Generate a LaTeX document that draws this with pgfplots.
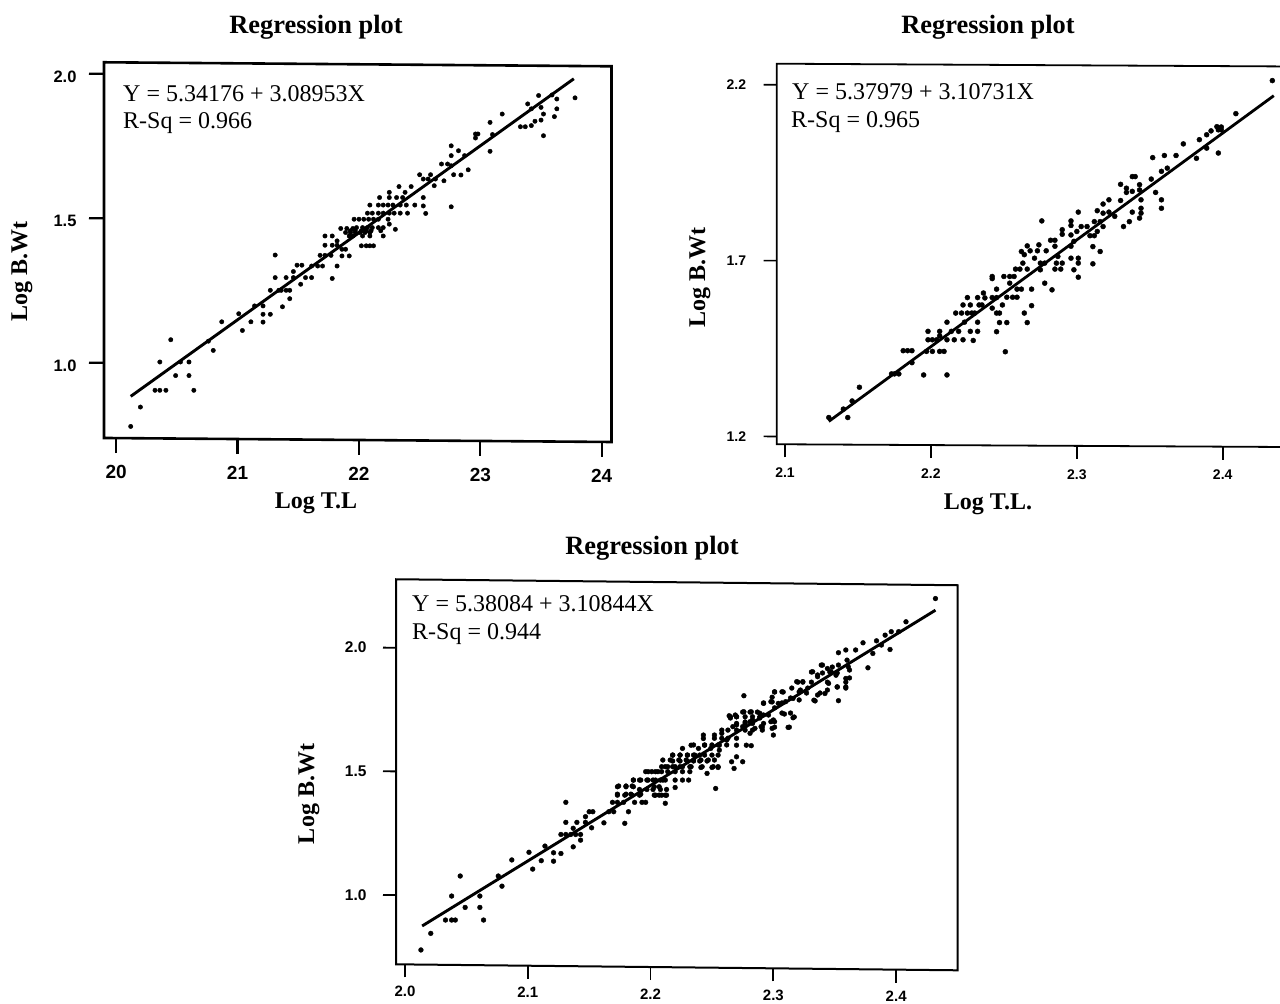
\documentclass[border=0pt]{standalone}
\usepackage{pgfplots}
\pgfplotsset{compat=1.18}
\usepackage{fontspec}
\setmainfont{Liberation Serif}
\newfontfamily\tickfont{Liberation Sans}
\newcommand{\ttl}[1]{{\fontsize{26.4}{30}\selectfont\bfseries #1}}
\newcommand{\lab}[1]{{\fontsize{24}{28}\selectfont\bfseries #1}}
\newcommand{\eqn}[1]{{\fontsize{24}{28}\selectfont #1}}
\pgfplotsset{reg/.style={
  scale only axis, clip=false, axis line style={black}, tick align=outside,
  tick style={black}, xtick pos=bottom, ytick pos=left,
  every axis plot/.append style={black}
}}
\begin{document}
\begin{tikzpicture}
\path[use as bounding box, clip] (0,0) rectangle (1280pt,1004pt);
\fill[white] (0,0) rectangle (1280pt,1004pt);

% ---------- panel 1
\begin{axis}[reg, anchor=south west, at={(104pt,562pt)},
  x={(121.4pt,-0.96pt)}, y={(0pt,289pt)},
  xmin=19.90, xmax=24.08, ymin=0.74, ymax=2.04,
  axis line style={line width=2.6pt}, tick style={line width=2.2pt},
  major tick length=15pt,
  xtick={20,21,22,23,24}, xticklabels={20,21,22,23,24},
  ytick={1,1.5,2}, yticklabels={1.0,1.5,2.0},
  xticklabel style={font=\tickfont\bfseries\fontsize{19}{22}\selectfont, yshift=-9pt},
  yticklabel style={font=\tickfont\bfseries\fontsize{16.5}{20}\selectfont, xshift=-9pt, yshift=-3pt},
  y filter/.expression={y+0.0033*(x-19.9)},
]
\addplot[only marks, mark=*, mark size=2.2pt] coordinates {
(20.12,.78)(20.20,.847)(20.32,.905)(20.36,.905)(20.41,.905)(20.36,1.003)(20.45,1.08)(20.49,.956)(20.53,1.003)(20.60,1.003)(20.60,.956)(20.64,.905)
(20.76,1.075)(20.80,1.043)(20.87,1.142)(21.01,1.17)(21.04,1.112)(21.11,1.142)(21.14,1.197)(21.21,1.197)(21.21,1.168)(21.27,1.168)(21.21,1.141)
(21.27,1.251)(21.31,1.373)(21.31,1.295)(21.34,1.251)(21.36,1.251)(21.40,1.251)(21.43,1.251)(21.37,1.194)(21.40,1.295)(21.43,1.222)(21.46,1.316)(21.46,1.295)
(21.49,1.338)(21.53,1.338)(21.52,1.272)(21.56,1.295)(21.61,1.295)(21.61,1.335)(21.66,1.335)(21.70,1.335)(21.68,1.372)(21.72,1.372)(21.77,1.372)
(21.72,1.439)(21.78,1.439)(21.72,1.407)(21.78,1.407)(21.82,1.407)(21.78,1.292)(21.82,1.335)(21.85,1.465)(21.90,1.465)(21.95,1.465)(21.82,1.422)
(21.86,1.393)(21.89,1.393)(21.86,1.37)(21.92,1.37)(21.92,1.439)(21.95,1.439)(21.96,1.497)(22.0,1.497)(22.04,1.497)
(21.93,1.457)(21.97,1.457)(22.02,1.457)(22.06,1.457)(22.10,1.457)(22.18,1.457)(22.02,1.405)(22.06,1.405)(22.09,1.405)(22.12,1.405)
(22.03,1.439)(22.09,1.439)(22.20,1.439)(22.24,1.497)(22.25,1.48)(22.30,1.462)
(22.09,1.546)(22.16,1.546)(22.20,1.546)(22.24,1.546)(22.28,1.546)(22.34,1.546)(22.39,1.546)(22.46,1.546)
(22.07,1.518)(22.11,1.518)(22.16,1.518)(22.20,1.518)(22.25,1.518)(22.29,1.518)(22.34,1.518)(22.40,1.518)
(22.17,1.572)(22.25,1.59)(22.25,1.572)(22.31,1.572)(22.36,1.572)(22.33,1.61)(22.38,1.59)(22.43,1.61)(22.53,1.572)(22.53,1.543)(22.55,1.517)
(22.50,1.651)(22.53,1.636)(22.59,1.651)(22.63,1.636)(22.62,1.613)(22.57,1.636)(22.70,1.63)(22.76,1.54)
(22.68,1.688)(22.73,1.688)(22.76,1.751)(22.76,1.717)(22.76,1.682)(22.78,1.651)(22.84,1.65)(22.90,1.668)(22.82,1.734)(22.87,1.717)
(22.96,1.778)(22.98,1.792)(22.96,1.792)(23.08,1.832)(23.08,1.732)(23.10,1.79)(23.18,1.861)
(23.33,1.817)(23.37,1.817)(23.42,1.821)(23.45,1.836)(23.5,1.84)(23.52,1.861)(23.52,1.786)(23.39,1.896)(23.42,1.879)(23.48,1.925)(23.50,1.884)
(23.59,1.927)(23.63,1.913)(23.63,1.879)(23.61,1.852)(23.78,1.917)
(21.98,1.468)(22.03,1.468)(22.07,1.468)(22.11,1.468)(22.16,1.468)(22.20,1.468)
(21.89,1.451)(21.93,1.451)(21.97,1.451)(22.01,1.451)(22.05,1.451)(22.09,1.451)
(22.08,1.497)(22.12,1.497)(22.16,1.497)
};
\addplot[line width=2.9pt] coordinates {(20.12,.884)(23.77,1.983)};
\end{axis}

% ---------- panel 2
\begin{axis}[reg, anchor=south west, at={(776.7pt,557pt)},
  x={(1459pt,-7.9pt)}, y={(0pt,351.7pt)},
  xmin=2.0943, xmax=2.4427, ymin=1.178, ymax=2.26,
  axis line style={line width=1.8pt}, tick style={line width=1.6pt},
  major tick length=13pt,
  xtick={2.1,2.2,2.3,2.4}, xticklabels={2.1,2.2,2.3,2.4},
  ytick={1.2,1.7,2.2}, yticklabels={1.2,1.7,2.2},
  xticklabel style={font=\tickfont\bfseries\fontsize{14}{16}\selectfont, yshift=-7pt},
  yticklabel style={font=\tickfont\bfseries\fontsize{14}{16}\selectfont, xshift=-14pt},
  y filter/.expression={y+0.0224*(x-2.0943)},
]
\addplot[only marks, mark=*, mark size=2.5pt] coordinates {
(2.130,1.254)(2.140,1.278)(2.143,1.254)(2.146,1.301)(2.151,1.340)(2.173,1.378)(2.175,1.378)(2.178,1.378)(2.181,1.444)(2.184,1.444)(2.187,1.444)(2.187,1.41)(2.195,1.375)
(2.198,1.499)(2.198,1.475)(2.201,1.475)(2.204,1.475)(2.197,1.442)(2.201,1.442)(2.206,1.499)(2.206,1.486)(2.206,1.442)(2.209,1.442)(2.211,1.375)(2.211,1.475)(2.211,1.525)
(2.216,1.475)(2.222,1.475)(2.214,1.499)(2.219,1.499)(2.217,1.551)(2.222,1.574)(2.227,1.574)(2.233,1.574)(2.221,1.551)(2.225,1.551)(2.228,1.551)(2.230,1.551)(2.225,1.595)
(2.223,1.525)(2.232,1.525)(2.227,1.499)(2.232,1.499)(2.229,1.473)(2.232,1.595)(2.236,1.608)(2.237,1.594)(2.235,1.574)(2.242,1.595)(2.245,1.595)(2.242,1.655)(2.242,1.649)
(2.245,1.619)(2.242,1.565)(2.245,1.551)(2.247,1.551)(2.245,1.498)(2.247,1.524)(2.252,1.524)(2.251,1.441)(2.249,1.574)(2.25,1.655)(2.254,1.655)(2.257,1.655)
(2.252,1.596)(2.256,1.596)(2.259,1.596)(2.254,1.636)(2.259,1.619)(2.262,1.619)(2.258,1.676)(2.261,1.676)(2.266,1.676)(2.264,1.551)(2.266,1.524)(2.269,1.572)(2.269,1.619)
(2.263,1.693)(2.262,1.726)(2.266,1.742)(2.268,1.728)(2.264,1.717)(2.274,1.745)(2.273,1.728)(2.271,1.707)(2.276,1.813)(2.275,1.693)(2.278,1.693)(2.275,1.674)(2.278,1.636)(2.283,1.617)
(2.279,1.728)(2.282,1.758)(2.285,1.758)(2.285,1.741)(2.287,1.712)(2.285,1.676)(2.289,1.676)(2.286,1.693)(2.290,1.693)(2.290,1.788)(2.290,1.775)(2.296,1.813)(2.296,1.80)(2.296,1.741)
(2.301,1.838)(2.296,1.773)(2.300,1.783)(2.298,1.755)(2.296,1.707)(2.301,1.707)(2.301,1.693)(2.298,1.674)(2.301,1.653)(2.303,1.797)(2.307,1.797)(2.309,1.771)(2.312,1.771)
(2.312,1.811)(2.316,1.811)(2.314,1.842)(2.311,1.740)(2.316,1.726)(2.311,1.691)(2.314,1.783)(2.318,1.797)(2.318,1.861)(2.322,1.873)(2.322,1.838)(2.318,1.835)(2.326,1.826)
(2.330,1.871)(2.330,1.917)(2.332,1.797)(2.334,1.906)(2.334,1.894)(2.336,1.811)(2.338,1.838)(2.338,1.939)(2.340,1.939)(2.338,1.897)(2.343,1.916)(2.343,1.901)(2.343,1.821)
(2.344,1.873)(2.344,1.849)(2.344,1.835)(2.351,1.932)(2.352,1.993)(2.354,1.894)(2.358,1.873)(2.358,1.849)(2.358,1.954)(2.362,1.963)(2.360,1.999)(2.368,1.999)(2.373,2.032)
(2.382,1.991)(2.384,2.044)(2.389,2.020)(2.389,2.058)(2.392,2.069)(2.397,2.006)(2.396,2.081)(2.399,2.080)(2.397,2.072)(2.399,2.072)(2.409,2.118)(2.434,2.212)
};
\addplot[line width=2.8pt] coordinates {(2.130,1.243)(2.435,2.169)};
\end{axis}

% ---------- panel 3
\begin{axis}[reg, anchor=south west, at={(396pt,33.7pt)},
  x={(1228pt,-13.1pt)}, y={(0pt,247.3pt)},
  xmin=1.9927, xmax=2.45, ymin=0.72, ymax=2.277,
  axis line style={line width=2pt}, tick style={line width=1.8pt},
  major tick length=13pt,
  xtick={2.0,2.1,2.2,2.3,2.4}, xticklabels={2.0,2.1,2.2,2.3,2.4},
  ytick={1,1.5,2}, yticklabels={1.0,1.5,2.0},
  xticklabel style={font=\tickfont\bfseries\fontsize{15}{18}\selectfont, yshift=-5.2pt},
  yticklabel style={font=\tickfont\bfseries\fontsize{15.5}{18}\selectfont, xshift=-13pt},
  y filter/.expression={y+0.053*(x-1.9927)},
]
\addplot[only marks, mark=*, mark size=2.4pt] coordinates {
(2.013,.778)(2.021,.845)(2.033,.899)(2.038,.899)(2.041,.899)(2.038,.996)(2.045,1.077)(2.049,.95)(2.061,.996)(2.061,.95)(2.064,.899)(2.076,1.077)(2.079,1.036)(2.087,1.142)
(2.101,1.173)(2.104,1.105)(2.111,1.139)(2.114,1.198)(2.121,1.171)(2.121,1.137)(2.127,1.168)(2.131,1.375)(2.131,1.294)(2.127,1.245)(2.131,1.245)(2.135,1.245)(2.139,1.245)(2.143,1.245)
(2.137,1.195)(2.143,1.222)(2.140,1.294)(2.137,1.27)(2.147,1.317)(2.147,1.294)(2.15,1.337)(2.153,1.337)(2.152,1.272)(2.162,1.292)(2.166,1.337)(2.170,1.337)
(2.169,1.375)(2.173,1.375)(2.178,1.375)(2.182,1.337)(2.179,1.29)(2.173,1.438)(2.18,1.438)(2.186,1.438)(2.173,1.408)(2.18,1.408)(2.184,1.408)(2.192,1.408)(2.186,1.465)
(2.187,1.375)(2.193,1.375)(2.196,1.375)(2.192,1.465)(2.198,1.465)(2.204,1.465)(2.21,1.465)(2.196,1.499)(2.201,1.499)(2.206,1.499)(2.203,1.438)(2.207,1.438)
(2.203,1.404)(2.207,1.404)(2.212,1.404)(2.212,1.371)(2.22,1.435)(2.231,1.465)(2.212,1.519)(2.218,1.519)(2.224,1.519)(2.233,1.519)
(2.21,1.546)(2.216,1.546)(2.223,1.546)(2.229,1.546)(2.235,1.546)(2.241,1.546)(2.247,1.546)(2.252,1.546)(2.218,1.566)(2.224,1.566)(2.23,1.566)(2.236,1.566)
(2.226,1.593)(2.233,1.606)(2.239,1.593)(2.244,1.606)(2.249,1.593)(2.241,1.516)(2.25,1.516)(2.255,1.516)(2.246,1.492)(2.253,1.431)(2.243,1.647)(2.243,1.633)
(2.252,1.647)(2.258,1.654)(2.256,1.606)(2.262,1.627)(2.256,1.586)(2.266,1.539)(2.275,1.539)(2.27,1.559)(2.268,1.512)(2.282,1.604)(2.27,1.606)(2.278,1.606)
(2.264,1.725)(2.27,1.721)(2.276,1.741)(2.282,1.741)(2.289,1.735)(2.276,1.806)(2.267,1.681)(2.275,1.681)(2.281,1.701)(2.281,1.654)(2.285,1.674)(2.292,1.775)
(2.29,1.681)(2.298,1.701)(2.301,1.701)(2.299,1.674)(2.3,1.647)(2.301,1.822)(2.307,1.822)(2.298,1.782)(2.304,1.775)(2.31,1.782)(2.309,1.732)(2.316,1.717)(2.312,1.678)
(2.319,1.863)(2.324,1.863)(2.316,1.795)(2.321,1.822)(2.332,1.903)(2.339,1.93)(2.344,1.916)(2.333,1.788)(2.342,1.815)(2.336,1.809)(2.336,1.883)(2.347,1.903)(2.351,1.889)
(2.345,1.856)(2.352,1.842)(2.359,1.842)(2.353,1.786)(2.359,1.876)(2.361,1.923)(2.353,1.98)(2.359,1.991)(2.367,1.991)(2.377,1.919)(2.373,2.02)(2.381,1.977)
(2.384,2.028)(2.391,2.051)(2.396,2.065)(2.395,1.993)(2.388,2.011)(2.402,2.065)(2.408,2.105)(2.432,2.199)
% dense rows
(2.174,1.441)(2.180,1.441)(2.185,1.441)(2.191,1.427)(2.197,1.427)(2.202,1.427)(2.208,1.427)(2.213,1.427)
(2.173,1.404)(2.179,1.404)(2.185,1.404)(2.191,1.404)(2.204,1.404)(2.209,1.404)(2.213,1.404)
(2.186,1.465)(2.191,1.465)(2.197,1.465)(2.202,1.465)(2.208,1.465)(2.212,1.465)(2.220,1.465)(2.226,1.465)
(2.198,1.499)(2.204,1.499)(2.209,1.499)(2.214,1.499)(2.220,1.499)(2.226,1.499)(2.232,1.499)
(2.209,1.519)(2.214,1.519)(2.22,1.519)(2.226,1.519)(2.232,1.519)(2.242,1.519)(2.251,1.519)(2.255,1.519)
(2.218,1.542)(2.224,1.542)(2.23,1.542)(2.235,1.542)(2.24,1.542)(2.246,1.542)
(2.218,1.566)(2.224,1.566)(2.23,1.566)(2.235,1.566)(2.24,1.566)(2.244,1.566)(2.25,1.566)(2.255,1.566)
(2.235,1.607)(2.244,1.607)(2.25,1.607)(2.255,1.607)(2.262,1.607)
(2.252,1.634)(2.258,1.634)(2.263,1.634)(2.27,1.634)
(2.258,1.667)(2.263,1.667)(2.27,1.667)(2.277,1.667)(2.283,1.667)
(2.265,1.721)(2.27,1.721)(2.277,1.721)(2.283,1.721)(2.289,1.721)
(2.27,1.694)(2.277,1.694)(2.283,1.694)(2.292,1.694)
(2.265,1.716)(2.269,1.728)(2.275,1.74)(2.281,1.74)(2.287,1.74)(2.292,1.728)
(2.270,1.688)(2.277,1.70)(2.283,1.708)(2.289,1.716)(2.296,1.728)(2.301,1.757)(2.307,1.777)(2.314,1.797)(2.322,1.829)(2.328,1.837)(2.336,1.89)(2.340,1.898)(2.346,1.902)(2.352,1.898)
(2.299,1.80)(2.299,1.781)(2.292,1.777)(2.301,1.821)(2.308,1.821)(2.315,1.837)(2.32,1.861)(2.324,1.861)(2.331,1.861)(2.331,1.902)(2.34,1.93)(2.348,1.922)(2.353,1.93)(2.36,1.95)
(2.291,1.679)(2.291,1.667)(2.3,1.708)(2.301,1.679)(2.307,1.736)(2.314,1.736)(2.317,1.72)(2.313,1.679)(2.321,1.789)(2.327,1.817)(2.334,1.785)(2.338,1.817)(2.344,1.829)(2.344,1.861)(2.352,1.841)(2.359,1.861)(2.359,1.837)(2.362,1.878)(2.362,1.91)
};
\addplot[line width=2.9pt] coordinates {(2.014,.875)(2.432,2.152)};
\end{axis}

% ---------- texts
\node[anchor=base] at (316pt,970pt) {\ttl{Regression plot}};
\node[anchor=base] at (988pt,970pt) {\ttl{Regression plot}};
\node[anchor=base] at (652pt,449pt) {\ttl{Regression plot}};
\node[anchor=base] at (316pt,495pt) {\lab{Log T.L}};
\node[anchor=base] at (988pt,494pt) {\lab{Log T.L.}};
\node[rotate=90] at (22pt,732pt) {\lab{Log B.Wt}};
\node[rotate=90] at (700pt,726pt) {\lab{Log B.Wt}};
\node[rotate=90] at (309pt,210pt) {\lab{Log B.Wt}};
\node[anchor=base west,inner sep=0pt] at (123pt,902pt) {\eqn{Y = 5.34176 + 3.08953X}};
\node[anchor=base west,inner sep=0pt] at (123pt,875pt) {\eqn{R-Sq = 0.966}};
\node[anchor=base west,inner sep=0pt] at (792pt,904pt) {\eqn{Y = 5.37979 + 3.10731X}};
\node[anchor=base west,inner sep=0pt] at (791pt,876pt) {\eqn{R-Sq = 0.965}};
\node[anchor=base west,inner sep=0pt] at (412pt,392pt) {\eqn{Y = 5.38084 + 3.10844X}};
\node[anchor=base west,inner sep=0pt] at (412pt,364pt) {\eqn{R-Sq = 0.944}};
\end{tikzpicture}
\end{document}
